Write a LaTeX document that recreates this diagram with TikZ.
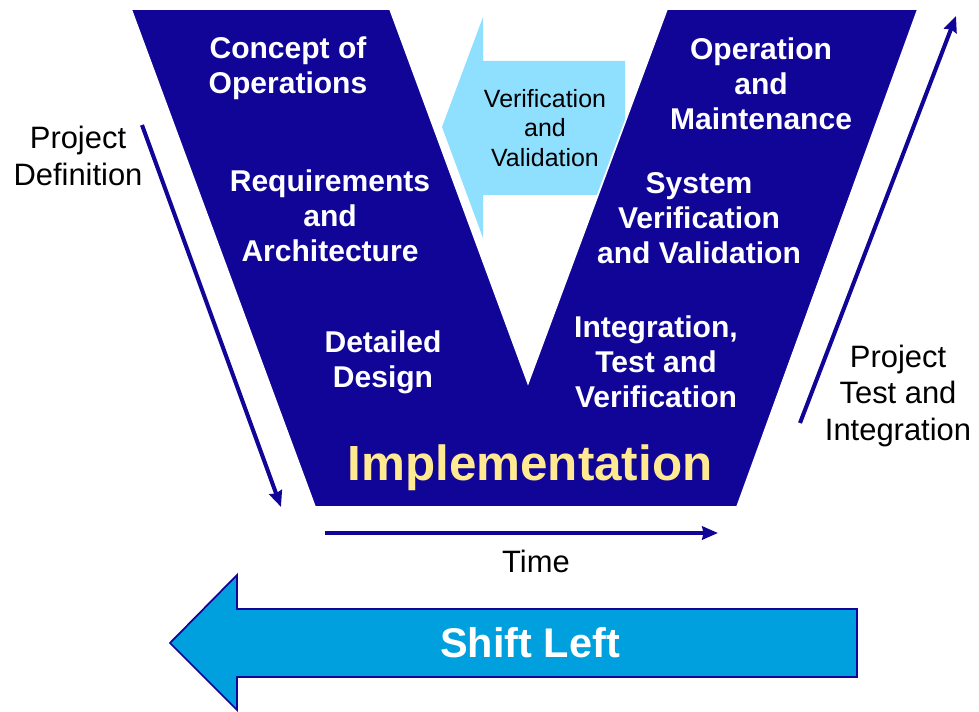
\documentclass[tikz,border=0pt]{standalone}
\usepackage{fontspec}
\setmainfont{Liberation Sans}
\usetikzlibrary{arrows.meta}
\definecolor{vblue}{RGB}{16,5,150}
\definecolor{vvblue}{RGB}{143,223,255}
\definecolor{shiftblue}{RGB}{0,160,222}
\definecolor{implyellow}{RGB}{255,233,145}
\tikzset{
  phase/.style={text=white,font=\bfseries\fontsize{17.1}{19.9}\selectfont,align=center},
  sidetext/.style={text=black,font=\fontsize{17.6}{21}\selectfont,align=center},
  flow/.style={line width=2.3pt,vblue,-{Stealth[length=9pt,width=7.5pt,inset=0.8pt]}}
}
\begin{document}
\begin{tikzpicture}[x=0.02cm,y=-0.02cm]
    \useasboundingbox (0,0) rectangle (979,712);
    % verification arrow behind the V
    \fill[vvblue] (442,127)--(483,17)--(483,61)--(625,61)--(625,195)--(483,195)--(483,238)--cycle;
    \node[sidetext,font=\fontsize{14.2}{16.8}\selectfont] (vv) at (545,128) {Verification\\and\\Validation};
    % the V
    \filldraw[fill=vblue,draw=white,line width=1pt] (131,9)--(390,9)--(528,383)--(667,9)--(918,9)--(737,507)--(315,507)--cycle;
    \node[phase] (concept) at (288,68) {Concept of\\Operations};
    \node[phase] (req) at (330,216) {Requirements\\and\\Architecture};
    \node[phase] (detail) at (383,362) {Detailed\\Design};
    \node[phase] (oper) at (761,84) {Operation\\and\\Maintenance};
    \node[phase] (sysvv) at (699,218) {System\\Verification\\and Validation};
    \node[phase] (integ) at (656,362) {Integration,\\Test and\\Verification};
    \node[phase,text=implyellow,font=\bfseries\fontsize{28.1}{32}\selectfont] (impl) at (530,468) {Implementation};
    % side arrows
    \node[sidetext] (projdef) at (78,156) {Project\\Definition};
    \node[sidetext] (projtest) at (898,396) {Project\\Test and\\Integration};
    \node[sidetext] (time) at (536,561) {Time};
    \coordinate (pd1) at (142,125);
    \coordinate (pd2) at (281,507);
    \coordinate (pt1) at (800,423);
    \coordinate (pt2) at (956,16);
    \coordinate (t1) at (325,533);
    \coordinate (t2) at (718,533);
    \draw[flow] (pd1)--(pd2);
    \draw[flow] (pt1)--(pt2);
    \draw[flow] (t1)--(t2);
    % shift left
    \filldraw[fill=shiftblue,draw=vblue,line width=1pt] (170,643)--(237,575)--(237,609)--(857,609)--(857,677)--(237,677)--(237,710)--cycle;
    \node[phase,font=\bfseries\fontsize{23.6}{28}\selectfont] (shift) at (530,643) {Shift Left};
\end{tikzpicture}
\end{document}
